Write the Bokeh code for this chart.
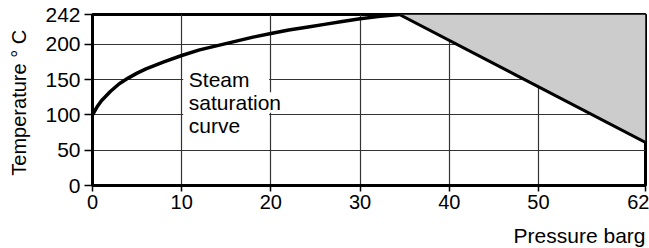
from bokeh.plotting import figure
from bokeh.models import Range1d, FixedTicker, Title
from bokeh.core.properties import value
from bokeh.embed import file_html
from bokeh.resources import INLINE

# Data
pressure = [0, 0.5, 1, 2, 3, 4, 5, 6, 7, 8, 10, 12, 14, 16, 18, 20, 22, 24, 26, 28, 30, 32, 34.4]
temperature = [100, 111, 120, 133, 144, 152, 159, 165, 170, 175, 184, 192, 198, 204, 210, 215, 220, 224, 228, 232, 236, 239, 242]
limit_p = [34.4, 62]
limit_t = [242, 61]
x_ticks = [0, 10, 20, 30, 40, 50, 62]
y_ticks = [0, 50, 100, 150, 200, 242]

FONT = "Liberation Sans"

p = figure(frame_width=553, frame_height=171, output_backend="svg", toolbar_location=None,
           x_range=Range1d(0, 62), y_range=Range1d(0, 242),
           min_border_left=92, min_border_right=4, min_border_top=14, min_border_bottom=60)

p.background_fill_color = "white"
p.border_fill_color = "white"
p.outline_line_color = "black"
p.outline_line_width = 3

# shaded region
p.patch([limit_p[0], limit_p[1], limit_p[1]], [limit_t[0], limit_t[0], limit_t[1]],
        fill_color="#cccccc", line_color=None)

# white box behind label
p.quad(left=10.17, right=19.8, bottom=80, top=160, fill_color="white", line_color=None)
p.quad(left=19.8, right=21.4, bottom=103, top=132, fill_color="white", line_color=None)

p.line(pressure, temperature, line_color="black", line_width=3.5)
p.line(limit_p, limit_t, line_color="black", line_width=3)

p.text(x=[10.8], y=[166], text=["Steam\nsaturation\ncurve"],
       text_font=value(FONT), text_font_size="21px", text_color="black",
       text_baseline="top", text_align="left", text_line_height=1.0)

for ax in (p.xaxis[0], p.yaxis[0]):
    ax.axis_line_width = 3
    ax.axis_line_color = "black"
    ax.major_tick_in = 0
    ax.major_tick_line_width = 1.5
    ax.minor_tick_line_color = None
    ax.major_label_text_font = FONT
    ax.major_label_text_color = "black"
    ax.axis_label_text_font = FONT
    ax.axis_label_text_font_size = "20px"
    ax.axis_label_text_font_style = "normal"
    ax.axis_label_text_color = "black"

p.xaxis.major_label_text_font_size = "20px"
p.yaxis.major_label_text_font_size = "21px"
p.xaxis.ticker = FixedTicker(ticks=x_ticks)
p.yaxis.ticker = FixedTicker(ticks=y_ticks)
p.xaxis.major_tick_out = 6
p.yaxis.major_tick_out = 8
p.xaxis.major_label_standoff = 3
p.yaxis.major_label_standoff = 4
p.yaxis.axis_label = "Temperature  \u00b0 C"
p.yaxis.axis_label_standoff = 12

p.xgrid.ticker = FixedTicker(ticks=x_ticks)
p.ygrid.ticker = FixedTicker(ticks=y_ticks)
for g in (p.xgrid[0], p.ygrid[0]):
    g.grid_line_color = "#333333"
    g.grid_line_width = 1.2

t = Title(text="Pressure barg", align="right", text_font=FONT, text_font_size="21px",
          text_font_style="normal", text_color="black", standoff=20)
p.add_layout(t, "below")

open("out.html", "w").write(file_html(p, INLINE))
